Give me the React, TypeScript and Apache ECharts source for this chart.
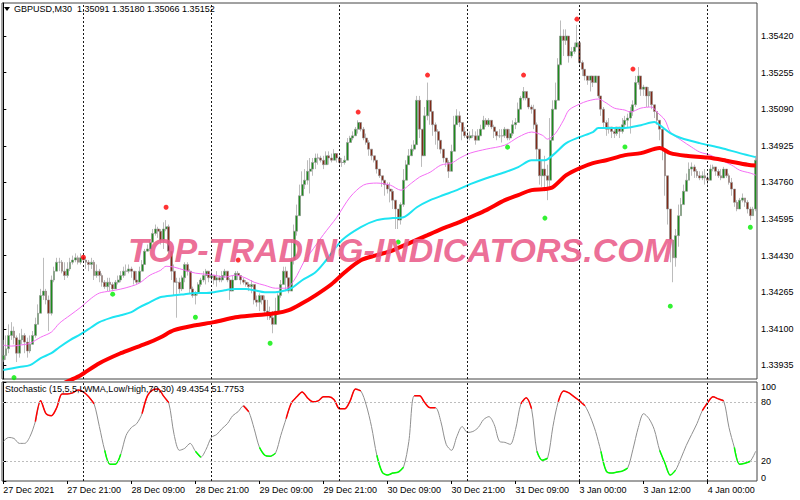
import React, { useEffect, useRef } from "react";
import * as echarts from "echarts";

// Prices are stored as pips above 1.33000 (1 pip = 0.0001)
const PIP_BASE = 1.33;
const firstOpen = 96;

const closes = [
  98, 101, 107, 109, 106, 99, 105, 107, 104, 100,
  103, 107, 112, 117, 125, 127, 123, 117, 132, 136,
  140, 140, 136, 134, 137, 140, 141, 142, 140, 142,
  141, 140, 139, 140, 134, 136, 134, 131, 129, 131,
  130, 128, 131, 132, 134, 136, 136, 137, 136, 132,
  131, 136, 139, 145, 146, 149, 153, 155, 154, 150,
  155, 156, 145, 136, 131, 131, 128, 133, 139, 136,
  128, 125, 126, 130, 132, 134, 136, 133, 134, 132,
  133, 132, 134, 136, 132, 127, 132, 135, 134, 132,
  131, 130, 129, 130, 123, 122, 125, 123, 118, 116,
  115, 112, 118, 125, 130, 136, 133, 127, 141, 154,
  161, 170, 175, 177, 181, 182, 185, 187, 187, 186,
  184, 188, 187, 186, 189, 187, 185, 185, 186, 194,
  196, 197, 200, 203, 200, 196, 194, 191, 188, 186,
  182, 179, 177, 175, 173, 172, 168, 164, 159, 166,
  177, 184, 188, 191, 193, 213, 200, 188, 206, 213,
  208, 202, 199, 195, 191, 187, 185, 181, 190, 202,
  206, 203, 199, 197, 196, 197, 197, 195, 197, 200,
  204, 202, 204, 201, 199, 197, 197, 197, 200, 196,
  198, 202, 203, 209, 214, 217, 214, 210, 209, 202,
  191, 179, 182, 179, 177, 195, 209, 213, 229, 242,
  240, 242, 233, 235, 237, 239, 230, 227, 224, 222,
  224, 221, 224, 215, 209, 203, 200, 201, 199, 198,
  201, 199, 202, 204, 205, 208, 211, 221, 224, 218,
  219, 215, 217, 211, 208, 204, 200, 191, 179, 164,
  150, 142, 152, 161, 166, 172, 177, 182, 183, 181,
  179, 178, 179, 178, 177, 182, 183, 181, 179, 178,
  182, 179, 176, 173, 167, 164, 168, 169, 167, 164,
  161, 164, 186,
];

const highs = [
  105, 107, 112, 113, 111, 107, 108, 110, 108, 106,
  107, 109, 115, 121, 128, 142, 128, 125, 134, 138,
  142, 142, 141, 140, 140, 142, 143, 144, 143, 144,
  143, 142, 141, 142, 141, 139, 137, 135, 132, 133,
  133, 131, 132, 134, 136, 138, 139, 139, 138, 136,
  136, 138, 141, 146, 148, 150, 155, 157, 156, 155,
  158, 159, 157, 145, 139, 133, 133, 134, 140, 140,
  137, 129, 127, 131, 133, 136, 137, 136, 136, 134,
  136, 134, 136, 137, 136, 133, 134, 136, 136, 134,
  133, 132, 131, 132, 127, 125, 126, 125, 125, 123,
  120, 118, 124, 126, 132, 138, 138, 133, 150, 157,
  166, 175, 181, 182, 186, 187, 187, 189, 189, 188,
  188, 190, 190, 189, 191, 188, 188, 187, 188, 196,
  197, 199, 201, 204, 203, 201, 198, 195, 191, 188,
  186, 182, 179, 176, 176, 176, 173, 168, 162, 167,
  182, 186, 191, 193, 195, 215, 215, 200, 210, 221,
  211, 205, 203, 200, 194, 191, 187, 186, 193, 206,
  209, 208, 203, 201, 199, 199, 200, 199, 200, 202,
  206, 205, 205, 204, 202, 199, 200, 200, 201, 200,
  200, 204, 205, 212, 215, 219, 217, 213, 211, 211,
  203, 191, 186, 188, 184, 205, 213, 221, 232, 249,
  245, 245, 238, 237, 239, 247, 233, 231, 227, 224,
  224, 224, 224, 224, 214, 210, 204, 205, 201, 200,
  201, 201, 205, 206, 207, 210, 213, 224, 228, 222,
  220, 219, 219, 215, 211, 207, 202, 200, 186, 173,
  159, 148, 155, 166, 169, 175, 180, 185, 185, 184,
  182, 181, 181, 182, 180, 184, 184, 183, 182, 182,
  183, 182, 180, 178, 171, 168, 169, 171, 169, 168,
  165, 165, 188,
];

const lows = [
  95, 96, 99, 105, 103, 95, 97, 103, 99, 97,
  99, 103, 106, 112, 117, 123, 121, 109, 116, 131,
  136, 136, 135, 132, 133, 136, 139, 140, 139, 139,
  140, 137, 136, 137, 132, 133, 131, 129, 128, 127,
  127, 127, 128, 130, 131, 133, 134, 135, 133, 130,
  130, 132, 136, 140, 145, 145, 149, 152, 151, 148,
  146, 154, 144, 132, 125, 115, 126, 127, 131, 134,
  126, 124, 121, 125, 129, 131, 130, 131, 131, 130,
  129, 131, 131, 133, 131, 123, 127, 133, 132, 130,
  130, 129, 127, 126, 121, 120, 118, 121, 117, 114,
  114, 108, 112, 118, 124, 130, 127, 126, 127, 139,
  152, 161, 170, 173, 175, 171, 179, 182, 184, 185,
  182, 186, 184, 185, 186, 185, 184, 183, 184, 186,
  194, 195, 197, 198, 199, 195, 193, 188, 186, 185,
  180, 178, 174, 170, 171, 167, 164, 155, 155, 157,
  165, 179, 184, 188, 190, 193, 196, 183, 191, 204,
  202, 197, 193, 191, 189, 185, 183, 178, 181, 191,
  202, 201, 195, 196, 194, 195, 196, 193, 195, 197,
  200, 201, 201, 200, 196, 195, 196, 194, 196, 195,
  195, 197, 200, 203, 209, 213, 213, 209, 207, 200,
  186, 175, 174, 172, 168, 174, 195, 211, 213, 229,
  233, 238, 230, 232, 234, 237, 228, 224, 222, 220,
  217, 219, 222, 214, 206, 201, 197, 198, 196, 196,
  197, 196, 198, 200, 201, 198, 206, 210, 220, 215,
  215, 210, 210, 209, 205, 202, 195, 186, 170, 157,
  140, 131, 138, 147, 162, 166, 173, 178, 179, 178,
  178, 177, 177, 175, 175, 178, 181, 179, 178, 177,
  178, 178, 175, 170, 165, 163, 164, 167, 165, 162,
  159, 162, 163,
];

// Moving averages: [bar index, pips]
const magentaMA = [
  [0, 102.6], [3, 102.2], [6, 102.6], [10, 103.5], [14, 106.2], [18, 108.5], [21, 112.5],
  [25, 116.1], [29, 119.7], [33, 123.8], [36, 126.1], [40, 127.0], [44, 127.9], [48, 129.2],
  [51, 130.6], [55, 134.2], [59, 136.4], [61, 138.2], [64, 137.8], [68, 136.4], [72, 135.1],
  [76, 134.6], [79, 134.2], [83, 133.3], [87, 134.2], [91, 132.8], [94, 131.0], [98, 129.6],
  [102, 128.3], [106, 128.3], [109, 131.9], [113, 140.9], [115, 144.1], [120, 152.5],
  [125, 160.3], [130, 169.4], [135, 174.8], [140, 175.7], [145, 174.8], [149, 172.5],
  [153, 175.7], [156, 178.4], [160, 180.6], [164, 183.8], [168, 184.7], [171, 186.9],
  [175, 189.2], [181, 191.0], [188, 192.8], [193, 196.4], [198, 198.7], [202, 197.3],
  [204, 195.5], [207, 198.2], [210, 204.1], [212, 208.6], [216, 211.3], [219, 212.7],
  [223, 213.6], [226, 211.8], [229, 209.5], [233, 208.6], [235, 207.7], [239, 209.5],
  [243, 210.0], [245, 207.7], [248, 204.1], [250, 198.7], [254, 195.1], [258, 191.9],
  [261, 189.7], [265, 188.3], [269, 186.0], [273, 183.8], [276, 181.5], [280, 180.2],
  [282, 179.3],
];

const cyanMA = [
  [0, 91.4], [6, 92.8], [10, 93.6], [14, 96.8], [18, 99.0], [21, 101.7], [25, 104.9],
  [29, 107.6], [33, 110.7], [36, 113.0], [40, 114.8], [44, 116.1], [48, 117.5], [51, 119.7],
  [55, 122.0], [59, 124.3], [64, 125.1], [68, 125.6], [72, 126.1], [76, 126.1], [79, 126.5],
  [83, 127.4], [87, 127.9], [91, 127.9], [94, 127.4], [98, 126.5], [102, 126.5], [106, 127.4],
  [108, 128.3], [112, 131.9], [117, 135.5], [121, 140.9], [127, 150.0], [134, 155.8],
  [140, 159.0], [146, 159.9], [150, 160.3], [155, 164.8], [160, 168.0], [165, 170.3],
  [170, 172.5], [175, 175.2], [181, 177.9], [188, 180.6], [193, 182.9], [198, 186.0],
  [203, 186.0], [206, 188.3], [211, 193.7], [216, 196.4], [221, 198.7], [223, 200.5],
  [228, 200.5], [233, 200.5], [239, 201.8], [244, 203.2], [246, 201.8], [250, 198.2],
  [254, 196.0], [261, 193.7], [269, 191.5], [276, 189.2], [282, 187.4],
];

const redMA = [
  [18, 83.0], [25, 86.8], [29, 89.1], [36, 94.5], [44, 99.0], [49, 101.3], [54, 103.5],
  [59, 106.2], [64, 109.4], [72, 111.6], [79, 113.0], [87, 115.2], [94, 116.1], [102, 117.0],
  [107, 118.4], [112, 121.5], [117, 125.1], [123, 130.1], [128, 135.5], [134, 140.9],
  [140, 143.2], [146, 145.4], [153, 149.1], [159, 152.2], [165, 155.4], [171, 158.1],
  [175, 160.3], [181, 163.5], [188, 168.0], [193, 170.3], [198, 172.5], [203, 173.0],
  [206, 173.9], [211, 179.3], [216, 182.4], [221, 184.7], [226, 186.0], [233, 188.3],
  [239, 189.2], [246, 191.5], [250, 189.2], [256, 188.0], [264, 187.2], [271, 185.8],
  [279, 184.0], [282, 183.6],
];

const fractalHighs = [
  [30, 142.3], [61, 164.8], [88, 141.0], [133, 207.7], [159, 224.4], [195, 224.4], [215, 249.6], [236, 227.1],
];
const fractalLows = [
  [4, 88.0], [41, 125.6], [72, 115.2], [100, 103.5], [148, 149.1], [189, 191.9], [203, 159.9],
  [233, 192.0], [250, 120.2], [280, 155.8],
];

// Stochastic main line, one value every second bar (bars 0,2,4,...,282)
const stochK = [
  40, 44, 43, 38, 38, 45, 60, 81, 68, 66,
  74, 88, 88, 89, 92, 90, 85, 78, 55, 31,
  17, 17, 27, 46, 54, 58, 68, 86, 92, 93,
  86, 79, 47, 31, 33, 38, 30, 24, 32, 44,
  47, 53, 58, 66, 70, 76, 70, 53, 34, 26,
  25, 28, 46, 63, 79, 85, 90, 84, 80, 81,
  85, 85, 82, 73, 73, 81, 93, 91, 77, 55,
  26, 9, 6, 8, 9, 14, 40, 86, 86, 79,
  74, 74, 60, 37, 31, 45, 55, 49, 50, 54,
  62, 65, 57, 40, 39, 37, 52, 78, 84, 73,
  30, 21, 23, 55, 80, 91, 89, 85, 81, 76,
  65, 50, 30, 10, 8, 9, 10, 13, 32, 54,
  68, 63, 52, 31, 18, 6, 11, 23, 36, 47,
  58, 71, 79, 85, 83, 81, 54, 34, 17, 18,
  20, 30,
];
// zone of each stochastic point: r = overbought colour, g = oversold colour, n = neutral
const stochZone =
  "nnnnnn" + "rrrrrrrrrrrr" + "n" + "gggg" + "nnn" + "rrrrrr" + "nnnn" + "gg" + "nnnnnnn" +
  "rr" + "n" + "gggg" + "n" + "rrrrrrrrrrrrrrr" + "nn" + "gggggg" + "n" + "rrrrr" + "nn" + "g" +
  "nnnnnnnnnnnn" + "rrr" + "ggg" + "n" + "rrrrrr" + "nn" + "gggggg" + "nnnnn" + "gggg" + "nnnn" +
  "rrrrr" + "n" + "gggg" + "n";

const xTickLabels: [number, string][] = [
  [0, "27 Dec 2021"], [24, "27 Dec 21:00"], [48, "28 Dec 09:00"], [72, "28 Dec 21:00"],
  [96, "29 Dec 09:00"], [120, "29 Dec 21:00"], [144, "30 Dec 09:00"], [168, "30 Dec 21:00"],
  [192, "31 Dec 09:00"], [216, "3 Jan 00:00"], [240, "3 Jan 12:00"], [264, "4 Jan 00:00"],
];
const daySeparators = [30, 78, 126, 174, 216, 264];
const priceTicks = [1.33935, 1.341, 1.34265, 1.3443, 1.34595, 1.3476, 1.34925, 1.3509, 1.35255, 1.3542];
const stochTicks = [0, 20, 80, 100];
const stochLevels = [20, 80];
const headerText = "GBPUSD,M30  1.35091 1.35180 1.35066 1.35152";
const lastPrice = 1.35152;
const stochTitle = "Stochastic (15,5,5,LWMA,Low/High,70,30) 49.4354 51.7753";
const watermark = "TOP-TRADING-INDICATORS.COM";

const PRICE_MIN = 1.338737;
const PRICE_MAX = 1.355688;

const toPrice = (p: number) => +(PIP_BASE + p / 10000).toFixed(5);

export default function App() {
  const ref = useRef<HTMLDivElement>(null);

  useEffect(() => {
    if (!ref.current) return;
    const chart = echarts.init(ref.current, undefined, { renderer: "svg" });
    const n = closes.length;
    const cats = closes.map((_, i) => String(i));
    const candleData = closes.map((c, i) => {
      const o = i === 0 ? firstOpen : closes[i - 1];
      const h = Math.max(highs[i], o, c);
      const l = Math.min(lows[i], o, c);
      return [toPrice(o), toPrice(c), toPrice(l), toPrice(h)];
    });
    const toLine = (arr: number[][]) => arr.map(([i, p]) => [i, toPrice(p)]);
    const labelMap = new Map<number, string>(xTickLabels);
    const stochPts = stochK.map((v, k) => [2 * k, v]);
    const zoneSeries = (z: string) =>
      stochK.map((v, k) => [2 * k, stochZone[k] === z ? v : "-"]);
    const font = "Liberation Sans";

    const vLines = {
      silent: true,
      symbol: ["none", "none"],
      label: { show: false },
      lineStyle: { color: "#000", type: [2, 2], width: 1, opacity: 0.9 },
      data: daySeparators.map((x) => ({ xAxis: x })),
    };

    chart.setOption({
      animation: false,
      textStyle: { fontFamily: font },
      grid: [
        { left: 2, width: 755, top: 3, height: 376, show: true, borderColor: "#444", borderWidth: 1, backgroundColor: "#fff" },
        { left: 2, width: 755, top: 382, height: 99, show: true, borderColor: "#444", borderWidth: 1, backgroundColor: "#fff" },
      ],
      xAxis: [
        { type: "category", gridIndex: 0, data: cats, boundaryGap: true, axisLine: { show: false }, axisTick: { show: false }, axisLabel: { show: false }, splitLine: { show: false } },
        { type: "value", gridIndex: 0, min: -0.5, max: n - 0.5, show: false },
        {
          type: "category", gridIndex: 1, data: cats, boundaryGap: true,
          axisLine: { show: false },
          axisTick: { show: true, alignWithLabel: true, length: 3, interval: (idx: number) => labelMap.has(idx), lineStyle: { color: "#000" } },
          axisLabel: {
            show: true, interval: (idx: number) => labelMap.has(idx),
            formatter: (_v: string, idx: number) => labelMap.get(idx) || "",
            align: "left", fontSize: 9, color: "#000", margin: 4, fontFamily: font,
          },
          splitLine: { show: false },
        },
        { type: "value", gridIndex: 1, min: -0.5, max: n - 0.5, show: false },
      ],
      yAxis: [
        {
          type: "value", gridIndex: 0, position: "right", min: PRICE_MIN, max: PRICE_MAX, scale: true,
          axisLine: { show: true, lineStyle: { color: "#000" } },
          axisTick: { show: true, length: 3, customValues: priceTicks, lineStyle: { color: "#000" } },
          axisLabel: { show: true, customValues: priceTicks, formatter: (v: number) => v.toFixed(5), fontSize: 9, color: "#000", margin: 4, fontFamily: font },
          splitLine: { show: false },
        },
        {
          type: "value", gridIndex: 1, position: "right", min: 0, max: 100,
          axisLine: { show: true, lineStyle: { color: "#000" } },
          axisTick: { show: true, length: 3, customValues: stochTicks, lineStyle: { color: "#000" } },
          axisLabel: {
            show: true, customValues: stochTicks, fontSize: 9, color: "#000", margin: 4, fontFamily: font,
            formatter: (v: number) => (v === 100 ? "{top|100}" : v === 0 ? "{bot|0}" : String(v)),
            rich: { top: { fontSize: 9, padding: [9, 0, 0, 0] }, bot: { fontSize: 9, padding: [0, 0, 7, 0] } },
          },
          splitLine: { show: false },
        },
      ],
      series: [
        {
          type: "candlestick", xAxisIndex: 0, yAxisIndex: 0, data: candleData, barWidth: 2.4,
          itemStyle: { color: "#1c8c1c", color0: "#802a18", borderColor: "#8e8e8e", borderColor0: "#8e8e8e", borderWidth: 0.6 },
          markLine: {
            silent: true, symbol: ["none", "none"],
            lineStyle: { opacity: 0 },
            label: {
              show: true, position: "end", formatter: lastPrice.toFixed(5), color: "#fff",
              backgroundColor: "#000", padding: [2, 3, 1, 3], fontSize: 9, distance: 3, fontFamily: font,
            },
            data: [{ yAxis: lastPrice }],
          },
          z: 2,
        },
        {
          type: "line", xAxisIndex: 1, yAxisIndex: 0, data: toLine(magentaMA), smooth: 0.3, showSymbol: false,
          lineStyle: { color: "#f46ef4", width: 1 }, markLine: vLines, z: 3,
        },
        {
          type: "line", xAxisIndex: 1, yAxisIndex: 0, data: toLine(cyanMA), smooth: 0.3, showSymbol: false,
          lineStyle: { color: "#1ee4f2", width: 2 }, z: 4,
        },
        {
          type: "line", xAxisIndex: 1, yAxisIndex: 0, data: toLine(redMA), smooth: 0.3, showSymbol: false,
          lineStyle: { color: "#ff0000", width: 4 }, z: 5,
        },
        {
          type: "scatter", xAxisIndex: 1, yAxisIndex: 0, data: toLine(fractalHighs), symbolSize: 5,
          itemStyle: { color: "#ff0000" }, z: 6,
        },
        {
          type: "scatter", xAxisIndex: 1, yAxisIndex: 0, data: toLine(fractalLows), symbolSize: 5,
          itemStyle: { color: "#00ee00" }, z: 6,
        },
        {
          type: "line", xAxisIndex: 3, yAxisIndex: 1, data: stochPts, smooth: 0.3, showSymbol: false,
          lineStyle: { color: "#8f8f8f", width: 1 },
          markLine: {
            silent: true, symbol: ["none", "none"], label: { show: false },
            data: [
              ...daySeparators.map((x) => ({ xAxis: x, lineStyle: { color: "#000", type: [2, 2], width: 1, opacity: 0.9 } })),
              ...stochLevels.map((y) => ({ yAxis: y, lineStyle: { color: "#bdbdbd", type: [2, 2], width: 1 } })),
            ],
          },
        },
        {
          type: "line", xAxisIndex: 3, yAxisIndex: 1, data: zoneSeries("r"), smooth: 0.3, showSymbol: false,
          connectNulls: false, lineStyle: { color: "#ff0000", width: 1.5 }, z: 3,
        },
        {
          type: "line", xAxisIndex: 3, yAxisIndex: 1, data: zoneSeries("g"), smooth: 0.3, showSymbol: false,
          connectNulls: false, lineStyle: { color: "#00ff00", width: 1.5 }, z: 3,
        },
      ],
      graphic: [
        { type: "polygon", shape: { points: [[4, 7], [10, 7], [7, 11]] }, style: { fill: "#000" }, z: 100 },
        { type: "text", x: 14, y: 9, style: { text: headerText, fontSize: 9, fill: "#000", fontFamily: font, verticalAlign: "middle" }, z: 100 },
        { type: "text", x: 5, y: 389, style: { text: stochTitle, fontSize: 9, fill: "#000", fontFamily: font, verticalAlign: "middle" }, z: 100 },
        {
          type: "text", x: 400, y: 250, z: 100,
          style: {
            text: watermark, fontSize: 34, fontWeight: "bold", fontStyle: "italic", fontFamily: font,
            fill: "rgba(234,92,138,0.9)", align: "center", verticalAlign: "middle",
          },
        },
      ],
    });
    return () => chart.dispose();
  }, []);

  return <div ref={ref} style={{ position: "absolute", left: 0, top: 0, width: 800, height: 500 }} />;
}
